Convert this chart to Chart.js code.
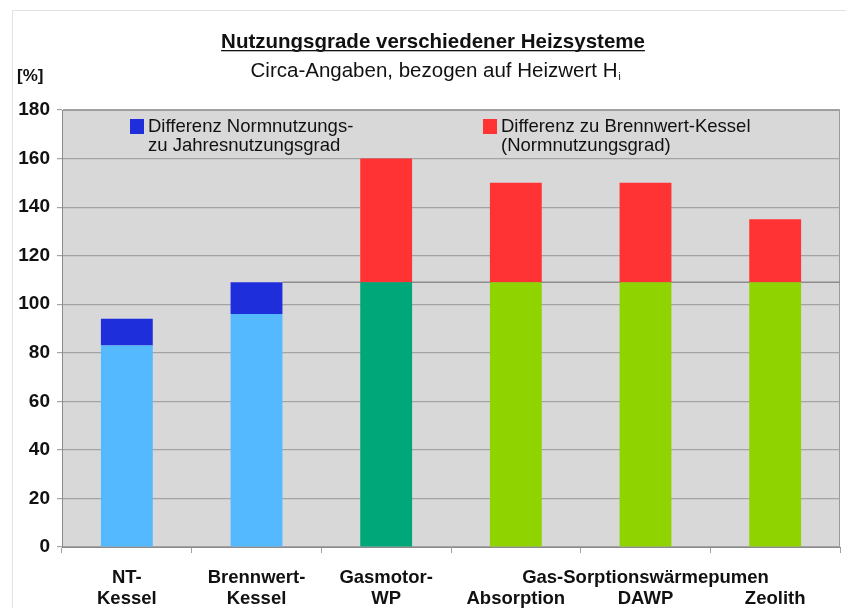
<!DOCTYPE html>
<html>
<head>
<meta charset="utf-8">
<script src="https://cdn.jsdelivr.net/npm/chart.js@4"></script>
<style>
    html, body { margin: 0; padding: 0; background: #fff; }
    #wrap { position: relative; width: 846px; height: 608px; }
</style>
</head>
<body>
<div id="wrap"><canvas id="chart" width="846" height="608"></canvas></div>
<script>
// Daten
const categories = [
    ['NT-', 'Kessel'],
    ['Brennwert-', 'Kessel'],
    ['Gasmotor-', 'WP'],
    ['', 'Absorption'],
    ['Gas-Sorptionswärmepumen', 'DAWP'],
    ['', 'Zeolith']
];
const baseValues = [83, 96, 109, 109, 109, 109];
const jahresDiff = [11, 13, 0, 0, 0, 0];
const brennwertDiff = [0, 0, 51, 41, 41, 26];
const baseColors = ['#55b9ff', '#55b9ff', '#00a879', '#8fd400', '#8fd400', '#8fd400'];
const yTicks = [0, 20, 40, 60, 80, 100, 120, 140, 160, 180];
const refValue = 109;

const legendItems = [
    { color: '#1f2edb', lines: ['Differenz Normnutzungs-', 'zu Jahresnutzungsgrad'], x: 130 },
    { color: '#ff3333', lines: ['Differenz zu Brennwert-Kessel', '(Normnutzungsgrad)'], x: 483 }
];

const FONT = "'Liberation Sans', Arial, sans-serif";

// Rahmen, Überschrift, Legende, Hilfslinie
const decoPlugin = {
    id: 'deco',
    beforeDraw(chart) {
        const ctx = chart.ctx;
        const a = chart.chartArea;
        ctx.save();
        // äußerer Rahmen
        ctx.strokeStyle = '#e2e2e2';
        ctx.lineWidth = 1;
        ctx.beginPath();
        ctx.moveTo(12.5, 608);
        ctx.lineTo(12.5, 10.5);
        ctx.lineTo(846, 10.5);
        ctx.stroke();
        // Plotfläche
        ctx.fillStyle = '#d8d8d8';
        ctx.fillRect(a.left, a.top, a.right - a.left, a.bottom - a.top);
        ctx.strokeStyle = '#9a9a9a';
        ctx.strokeRect(a.left + 0.5, a.top + 0.5, a.right - a.left - 1, a.bottom - a.top - 1);

        // Titel
        ctx.fillStyle = '#111';
        ctx.textAlign = 'center';
        ctx.textBaseline = 'alphabetic';
        ctx.font = 'bold 20.5px ' + FONT;
        const title = 'Nutzungsgrade verschiedener Heizsysteme';
        ctx.fillText(title, 433, 48);
        const tw = ctx.measureText(title).width;
        ctx.fillRect(433 - tw / 2, 50, tw, 1.3);

        ctx.font = '20.5px ' + FONT;
        const sub = 'Circa-Angaben, bezogen auf Heizwert H';
        const sw = ctx.measureText(sub).width;
        ctx.textAlign = 'left';
        ctx.fillText(sub, 434 - sw / 2, 77);
        ctx.font = '10px ' + FONT;
        ctx.fillText('i', 434 + sw / 2 + 1, 80);

        ctx.font = 'bold 17px ' + FONT;
        ctx.fillText('[%]', 17, 81);
        ctx.restore();
    },
    beforeDatasetsDraw(chart) {
        const ctx = chart.ctx;
        const a = chart.chartArea;
        const y = chart.scales.y.getPixelForValue(refValue);
        const bar = chart.getDatasetMeta(1).data[1];
        ctx.save();
        ctx.strokeStyle = '#8c8c8c';
        ctx.lineWidth = 1.5;
        ctx.beginPath();
        ctx.moveTo(bar.x + bar.width / 2, y);
        ctx.lineTo(a.right, y);
        ctx.stroke();
        ctx.restore();
    },
    afterDraw(chart) {
        const ctx = chart.ctx;
        const a = chart.chartArea;
        ctx.save();
        ctx.font = '18.5px ' + FONT;
        ctx.textBaseline = 'middle';
        ctx.textAlign = 'left';
        legendItems.forEach(item => {
            ctx.fillStyle = item.color;
            ctx.fillRect(item.x, a.top + 9, 14, 15);
            ctx.fillStyle = '#111';
            item.lines.forEach((line, i) => {
                ctx.fillText(line, item.x + 18, a.top + 17 + i * 19);
            });
        });
        ctx.restore();
    }
};

new Chart(document.getElementById('chart'), {
    type: 'bar',
    data: {
        labels: categories,
        datasets: [
            { label: 'Nutzungsgrad', data: baseValues, backgroundColor: baseColors },
            { label: 'Differenz Normnutzungs- zu Jahresnutzungsgrad', data: jahresDiff, backgroundColor: legendItems[0].color },
            { label: 'Differenz zu Brennwert-Kessel (Normnutzungsgrad)', data: brennwertDiff, backgroundColor: legendItems[1].color }
        ]
    },
    options: {
        responsive: false,
        animation: false,
        layout: { padding: { top: 110, right: 6, left: 0, bottom: 0 } },
        datasets: { bar: { categoryPercentage: 1, barPercentage: 0.4 } },
        plugins: {
            legend: { display: false },
            tooltip: { enabled: false }
        },
        scales: {
            x: {
                stacked: true,
                grid: { offset: true, drawOnChartArea: false, drawTicks: true, tickLength: 6, color: '#a0a0a0' },
                border: { display: true, color: '#8a8a8a' },
                ticks: {
                    color: '#111',
                    padding: 15,
                    maxRotation: 0,
                    autoSkip: false,
                    font: { family: FONT, size: 18.5, weight: 'bold', lineHeight: 1.1 }
                },
                afterFit(scale) { scale.height = 61; }
            },
            y: {
                stacked: true,
                min: 0,
                max: 180,
                afterBuildTicks(scale) { scale.ticks = yTicks.map(v => ({ value: v })); },
                grid: { color: '#a3a3a3', tickLength: 5, lineWidth: 1.2 },
                border: { display: true, color: '#8a8a8a' },
                ticks: {
                    color: '#111',
                    padding: 7,
                    font: { family: FONT, size: 19, weight: 'bold' }
                },
                afterFit(scale) { scale.width = 62; }
            }
        }
    },
    plugins: [decoPlugin]
});
</script>
</body>
</html>
